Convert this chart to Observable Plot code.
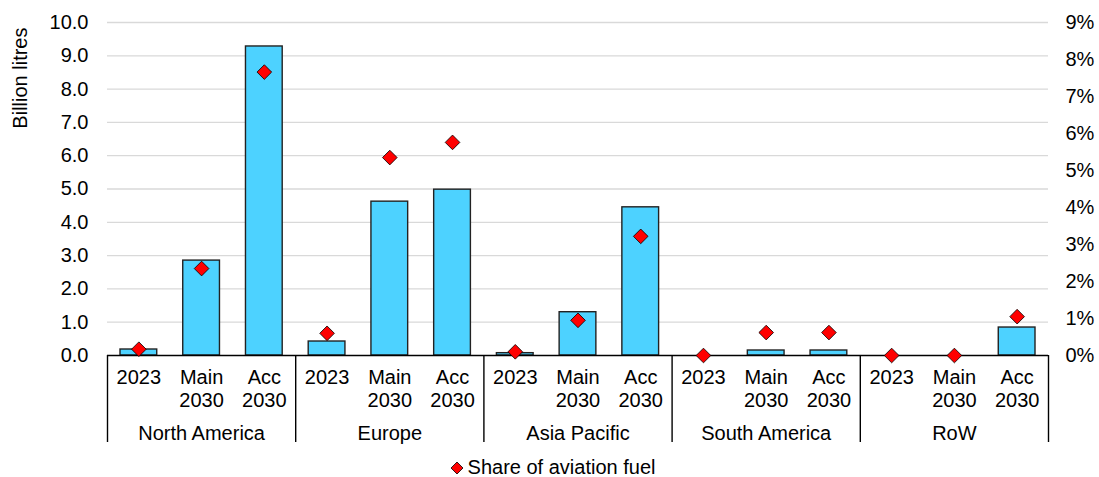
<!DOCTYPE html>
<html>
<head>
<meta charset="utf-8">
<script src="https://cdn.jsdelivr.net/npm/d3@7"></script>
<script src="https://cdn.jsdelivr.net/npm/@observablehq/plot@0.6"></script>
<style>
  body { margin: 0; background: #fff; font-family: "Liberation Sans", Arial, sans-serif; }
  #legend { width: 1099px; display: flex; justify-content: center; align-items: center; font-size: 20px; color: #000; margin-top: 11px; padding-left: 6px; box-sizing: border-box; }
  #legend svg { margin-right: 4px; }
</style>
</head>
<body>
<div id="chart"></div>
<div id="legend"><svg width="14" height="14" viewBox="-7 -7 14 14"><path d="M0,-6L6,0L0,6L-6,0Z" fill="#ff0000" stroke="#000" stroke-width="0.8"/></svg><span>Share of aviation fuel</span></div>
<script>
// ---- data ----
const regions = ["North America", "Europe", "Asia Pacific", "South America", "RoW"];
const scenarios = ["2023", "Main\n2030", "Acc\n2030"];
const volume = [0.18, 2.85, 9.28, 0.42, 4.62, 4.98, 0.07, 1.30, 4.45, 0, 0.15, 0.15, 0, 0, 0.84]; // billion litres
const share = [0.17, 2.35, 7.66, 0.60, 5.35, 5.76, 0.10, 0.95, 3.22, 0, 0.62, 0.62, 0, 0, 1.05];   // % of aviation fuel
const volumeTicks = [0, 1, 2, 3, 4, 5, 6, 7, 8, 9, 10];
const shareTicks = [0, 1, 2, 3, 4, 5, 6, 7, 8, 9];
const shareMax = 9, volumeMax = 10;

// ---- table ----
const rows = [];
regions.forEach((r, gi) => scenarios.forEach((s, si) => {
  const i = gi * scenarios.length + si;
  rows.push({i, region: r, scenario: s, vol: volume[i], share: share[i]});
}));
const groups = regions.map((r, gi) => ({region: r, start: gi * scenarios.length, mid: gi * scenarios.length + scenarios.length / 2}));
const boundaries = d3.range(0, rows.length + 1, scenarios.length);
const toLeft = p => p * volumeMax / shareMax;

const W = 1099, H = 445, mT = 22, mB = 90, mL = 107, mR = 51;
const plotH = H - mT - mB;

const chart = Plot.plot({
  width: W, height: H,
  marginTop: mT, marginBottom: mB, marginLeft: mL, marginRight: mR,
  style: {fontFamily: "Liberation Sans, Arial, sans-serif", fontSize: "20px", color: "#000", background: "#fff"},
  x: {type: "linear", domain: [0, rows.length], axis: null},
  y: {domain: [0, volumeMax], axis: null},
  marks: [
    Plot.ruleY(volumeTicks.filter(d => d > 0), {stroke: "#d9d9d9", strokeWidth: 1.3}),
    Plot.axisY({anchor: "left", ticks: volumeTicks, tickFormat: d => d.toFixed(1), tickSize: 0, tickPadding: 19, label: null}),
    Plot.axisY({anchor: "right", ticks: shareTicks.map(toLeft), tickFormat: d => Math.round(d * shareMax / volumeMax) + "%", tickSize: 0, tickPadding: 17, label: null}),
    Plot.rectY(rows, {x1: "i", x2: d => d.i + 1, y: "vol", fill: "#4dd2ff", stroke: "#222", strokeWidth: 1.4, insetLeft: 13, insetRight: 13}),
    Plot.ruleY([0], {stroke: "#000", strokeWidth: 1.5}),
    Plot.ruleX(boundaries, {stroke: "#000", strokeWidth: 1.4, insetTop: plotH, insetBottom: -87}),
    Plot.dot(rows, {x: d => d.i + 0.5, y: d => toLeft(d.share), symbol: "diamond2", r: 6.6, fill: "#ff0000", stroke: "#000", strokeWidth: 0.8}),
    Plot.text(rows, {x: d => d.i + 0.5, text: "scenario", frameAnchor: "bottom", lineAnchor: "top", dy: 12, lineHeight: 1.15, fill: "#000"}),
    Plot.text(groups, {x: "mid", text: "region", frameAnchor: "bottom", lineAnchor: "top", dy: 70, fill: "#000"}),
    Plot.text(["Billion litres"], {frameAnchor: "top-left", rotate: -90, textAnchor: "end", lineAnchor: "middle", dx: -87, dy: 5, fill: "#000"})
  ]
});
document.getElementById("chart").appendChild(chart);
</script>
</body>
</html>
